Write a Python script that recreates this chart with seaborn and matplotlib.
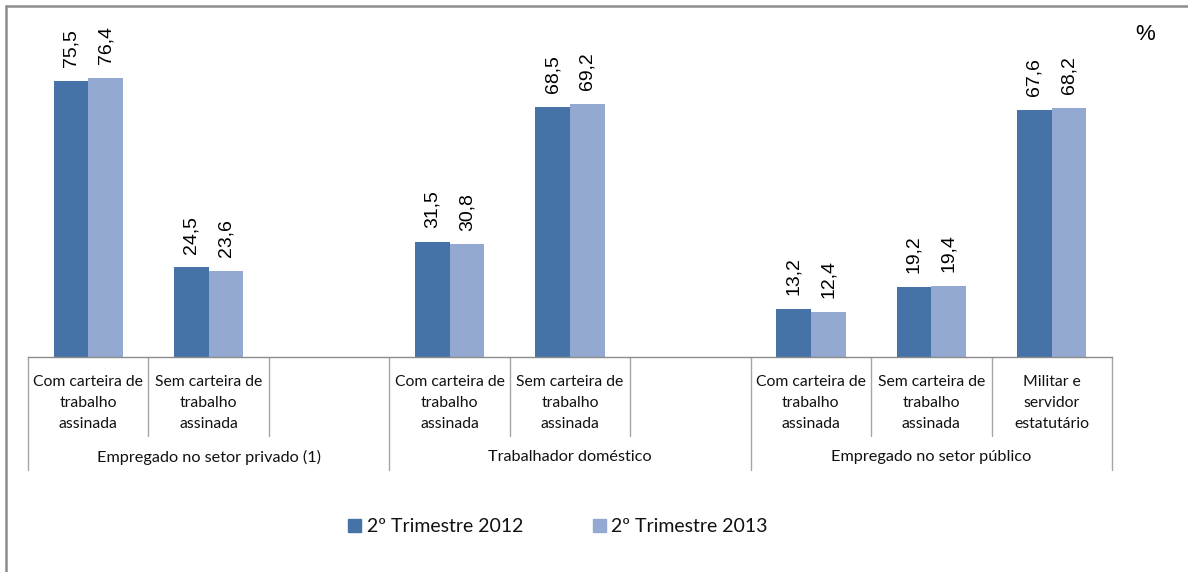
import pandas as pd
import matplotlib
matplotlib.use('Agg')
import matplotlib.pyplot as plt
import matplotlib.transforms as mtransforms
from matplotlib.lines import Line2D
import seaborn as sns

# dados (em %)
grupos = ['Empregado no setor privado (1)', 'Trabalhador doméstico', 'Empregado no setor público']
slots = ['priv_com', 'priv_sem', 'priv_vazio',
         'dom_com', 'dom_sem', 'dom_vazio',
         'pub_com', 'pub_sem', 'pub_mil']
rotulos = ['Com carteira de\ntrabalho\nassinada', 'Sem carteira de\ntrabalho\nassinada', '',
           'Com carteira de\ntrabalho\nassinada', 'Sem carteira de\ntrabalho\nassinada', '',
           'Com carteira de\ntrabalho\nassinada', 'Sem carteira de\ntrabalho\nassinada',
           'Militar e\nservidor\nestatutário']
slots_com_dados = ['priv_com', 'priv_sem', 'dom_com', 'dom_sem', 'pub_com', 'pub_sem', 'pub_mil']
valores_2012 = [75.5, 24.5, 31.5, 68.5, 13.2, 19.2, 67.6]
valores_2013 = [76.4, 23.6, 30.8, 69.2, 12.4, 19.4, 68.2]
series = ['2º Trimestre 2012', '2º Trimestre 2013']
cores = ['#4572A7', '#93A9D1']

df = pd.DataFrame({
    'slot': slots_com_dados * 2,
    'valor': valores_2012 + valores_2013,
    'serie': [series[0]] * 7 + [series[1]] * 7,
})

sns.set_style('white')
plt.rcParams['font.family'] = ['Lato', 'DejaVu Sans']
plt.rcParams['text.color'] = '#111111'

W, H = 1188, 572
fig = plt.figure(figsize=(W / 100, H / 100), dpi=100)
x0, x1, yb, yt = 28, 1112, 357, 28
ax = fig.add_axes([x0 / W, 1 - yb / H, (x1 - x0) / W, (yb - yt) / H])

sns.barplot(data=df, x='slot', y='valor', hue='serie', order=slots, hue_order=series,
            palette=cores, width=0.576, saturation=1, linewidth=0, ax=ax, legend=True)

ax.set_xlim(-0.5, 8.5)
ax.set_ylim(0, 90)
ax.set_xlabel('')
ax.set_ylabel('')
ax.set_yticks([])
for s in ['top', 'right', 'left']:
    ax.spines[s].set_visible(False)
ax.spines['bottom'].set_color('#8c8c8c')
ax.spines['bottom'].set_linewidth(1.0)

for c in ax.containers:
    ax.bar_label(c, labels=[f'{v:.1f}'.replace('.', ',') for v in c.datavalues],
                 rotation=90, padding=10, fontsize=14, family='Liberation Sans', color='black')

ax.set_xticks(range(len(slots)))
ax.set_xticklabels(rotulos, fontsize=11.3, linespacing=1.62, color='#111111')
ax.tick_params(axis='x', length=0, pad=13)

# divisores
trans = mtransforms.blended_transform_factory(ax.transData, ax.transAxes)
ah = yb - yt
for i in range(len(slots) + 1):
    xpos = i - 0.5
    baixo = (yb - 470) / ah if i % 3 == 0 else (yb - 436) / ah
    ax.plot([xpos, xpos], [0, baixo], transform=trans, color='#a6a6a6', lw=1, clip_on=False)

for g, nome in enumerate(grupos):
    ax.text(g * 3 + 1, (yb - 457) / ah, nome, transform=trans, ha='center', va='center',
            fontsize=11.7, color='#111111')

leg = ax.get_legend()
leg.remove()
handles = [plt.Rectangle((0, 0), 1, 1, color=c) for c in cores]
fig.legend(handles, series, loc='center', bbox_to_anchor=(558 / W, 1 - 527 / H), ncol=2,
           frameon=False, fontsize=14, handlelength=0.65, handleheight=0.65,
           handletextpad=0.3, columnspacing=3.6)

fig.text(1145 / W, 1 - 35 / H, '%', ha='center', va='center', fontsize=16,
         family='Liberation Sans', color='black')

# moldura
fig.add_artist(Line2D([6 / W, 6 / W], [0, 1 - 6 / H], color='#8c8c8c', lw=1.8))
fig.add_artist(Line2D([6 / W, 1], [1 - 6 / H, 1 - 6 / H], color='#8c8c8c', lw=1.8))

fig.savefig('out.png', dpi=100)
